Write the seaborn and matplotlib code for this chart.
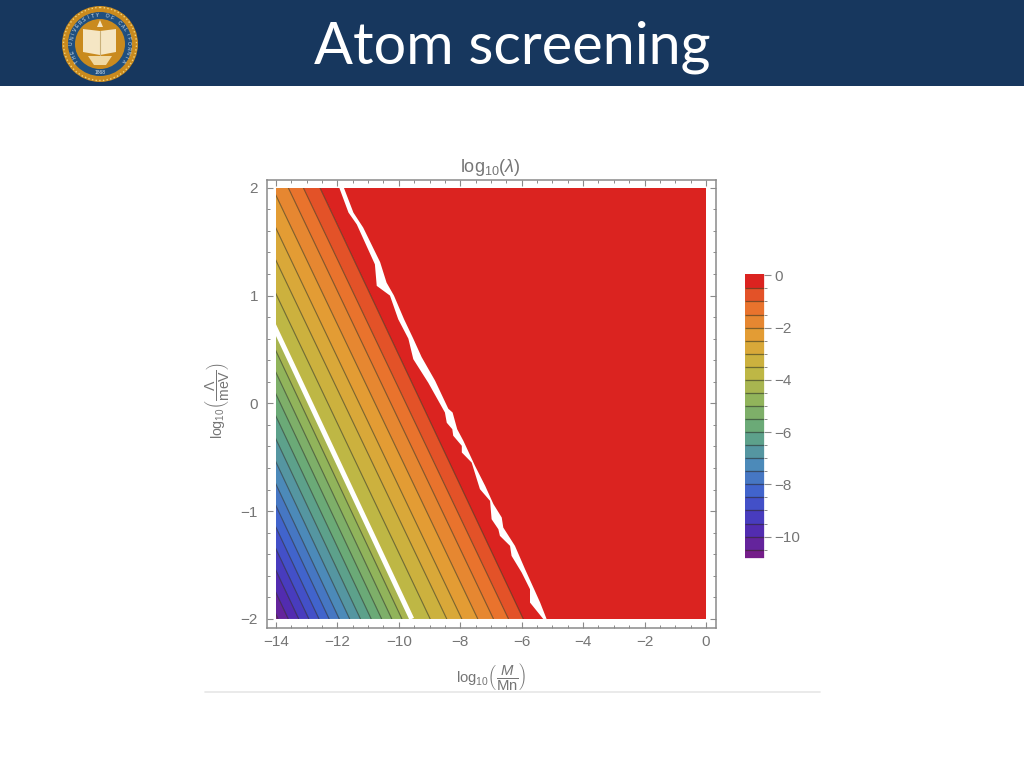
import numpy as np
import pandas as pd
import matplotlib
matplotlib.use("Agg")
import matplotlib.pyplot as plt
from matplotlib.patches import Rectangle, Circle, Polygon
import seaborn as sns

# ---- data ----
title = "Atom screening"
levels = [0, -0.5, -1, -1.5, -2, -2.5, -3, -3.5, -4, -4.5, -5, -5.5, -6, -6.5,
          -7, -7.5, -8, -8.5, -9, -9.5, -10, -10.5]
x_at_bottom = [-5.45, -5.95, -6.43, -6.92, -7.43, -7.95, -8.44, -8.98, -9.58, -9.9, -10.23,
               -10.56, -10.9, -11.25, -11.6, -11.94, -12.27, -12.6, -12.93, -13.26, -13.6, -13.93]
x_at_top = [-12.07, -12.57, -13.11, -13.6, -14.12, -14.63, -15.13, -15.64, -16.18, -16.5, -16.83,
            -17.16, -17.5, -17.85, -18.2, -18.54, -18.87, -19.2, -19.53, -19.86, -20.2, -20.53]
lowest_level = -10.8
lowest_x_bottom = -14.3
lowest_x_top = -20.9

gap_low_x = [-16.18, -9.58]      # white gap near level -4
gap_low_y = [2, -2]

gap_left_x = [-11.94, -11.64, -11.37, -10.78, -10.72, -10.29, -10.02, -9.69, -9.53, -9.04,
              -8.50, -8.44, -8.26, -8.23, -7.95, -7.95, -7.63, -7.36, -7.03, -6.98, -6.76,
              -6.71, -6.38, -6.33, -6.0, -5.73, -5.73, -5.30]
gap_left_y = [2.0, 1.77, 1.66, 1.29, 1.09, 1.00, 0.78, 0.60, 0.41, 0.19,
              -0.085, -0.18, -0.24, -0.30, -0.394, -0.456, -0.549, -0.796, -0.905, -1.075, -1.168,
              -1.229, -1.322, -1.415, -1.57, -1.724, -1.848, -2.0]
gap_right_x = [-11.79, -11.48, -11.16, -10.61, -10.40, -10.16, -9.83, -9.53, -9.26, -8.82,
               -8.39, -8.25, -8.10, -7.90, -7.52, -7.19, -6.92, -6.65, -6.60, -6.22, -5.89,
               -5.57, -5.40, -5.19]
gap_right_y = [2.0, 1.77, 1.63, 1.31, 1.12, 1.00, 0.78, 0.60, 0.43, 0.21,
               -0.05, -0.085, -0.24, -0.347, -0.58, -0.765, -0.935, -1.059, -1.152, -1.322, -1.539,
               -1.74, -1.848, -2.0]

x_ticks = [-14, -12, -10, -8, -6, -4, -2, 0]
y_ticks = [-2, -1, 0, 1, 2]
bar_ticks = [0, -2, -4, -6, -8, -10]
palette_stops = ["#7A1B84", "#4B2FB8", "#3F5FCF", "#4C8CB8", "#62A77E", "#8FB45C",
                 "#C4B742", "#E2A235", "#E9722D", "#DB2320"]
seal_text = "THE UNIVERSITY OF CALIFORNIA"

# ---- theme ----
sns.set_theme(style="white")
plt.rcParams["font.family"] = ["Liberation Sans", "DejaVu Sans"]
plt.rcParams["mathtext.fontset"] = "custom"
plt.rcParams["mathtext.rm"] = "Liberation Sans"
plt.rcParams["mathtext.it"] = "Liberation Sans:italic"
plt.rcParams["mathtext.bf"] = "Liberation Sans:bold"
GREY = "#757575"
FRAME = "#8a8a8a"
LINE = "#2b2b1f"
W, H = 1024, 768


def box(l, t, r, b):
    return [l / W, 1 - b / H, (r - l) / W, (b - t) / H]


fig = plt.figure(figsize=(10.24, 7.68), dpi=100, facecolor="white")
cmap = sns.blend_palette(palette_stops, as_cmap=True)
norm = plt.Normalize(lowest_level, 0)
top_red = palette_stops[-1]


def band_colour(low, high):
    return top_red if high == 0 else cmap(norm(0.5 * (low + high)))


# ---- main plot ----
ax = fig.add_axes(box(267, 180, 716, 628))
ax.set_xlim(-14.293, 0.326)
ax.set_ylim(-2.084, 2.072)
clip = Rectangle((-14, -2), 14, 4, transform=ax.transData)

all_lv = levels + [lowest_level]
all_bot = x_at_bottom + [lowest_x_bottom]
all_top = x_at_top + [lowest_x_top]
red = ax.fill([all_bot[1], 1, 1, all_top[1]], [-2, -2, 2, 2], color=top_red, lw=0)[0]
red.set_clip_path(clip)
for i in range(1, len(levels)):
    c = band_colour(all_lv[i + 1], all_lv[i])
    p = ax.fill([all_bot[i], all_bot[i + 1], all_top[i + 1], all_top[i]],
                [-2, -2, 2, 2], color=c, lw=0.3, ec=c)[0]
    p.set_clip_path(clip)

lines = pd.DataFrame(
    [{"level": lv, "x": xb, "y": -2} for lv, xb in zip(levels[1:], x_at_bottom[1:]) if lv != -4]
    + [{"level": lv, "x": xt, "y": 2} for lv, xt in zip(levels[1:], x_at_top[1:]) if lv != -4]
)
sns.lineplot(data=lines, x="x", y="y", units="level", estimator=None, sort=False,
             color=LINE, alpha=0.55, lw=0.8, ax=ax, legend=False)
for ln in ax.lines:
    ln.set_clip_path(clip)

gap_low, = ax.plot(gap_low_x, gap_low_y, color="white", lw=3.6, solid_capstyle="butt")
gap_low.set_clip_path(clip)
gap = ax.fill(gap_left_x + gap_right_x[::-1], gap_left_y + gap_right_y[::-1],
              color="white", lw=0)[0]
gap.set_clip_path(clip)

ax.set_xticks(x_ticks)
ax.set_xticklabels(["\u2212" + str(abs(v)) if v else "0" for v in x_ticks])
ax.set_yticks(y_ticks)
ax.set_yticklabels(["\u2212" + str(abs(v)) if v < 0 else str(v) for v in y_ticks])
ax.set_xticks(np.arange(-14, 0.01, 0.5), minor=True)
ax.set_yticks(np.arange(-2, 2.01, 0.2), minor=True)
ax.tick_params(which="major", direction="in", length=4.5, width=0.8, color=FRAME,
               top=True, right=True, bottom=True, left=True,
               labelsize=11, labelcolor=GREY, pad=5)
ax.tick_params(axis="y", which="major", pad=6.5)
ax.tick_params(which="minor", direction="in", length=2.5, width=0.7, color=FRAME,
               top=True, right=True, bottom=True, left=True)
for s in ax.spines.values():
    s.set_visible(True)
    s.set_color(FRAME)
    s.set_linewidth(1.1)
ax.set_xlabel("")
ax.set_ylabel("")

# ---- colour bar ----
cax = fig.add_axes(box(745, 274, 764, 557.5))
edges = np.array([0.05] + levels[1:] + [lowest_level])
mids = [top_red] + [band_colour(a, b) for a, b in zip(edges[2:], edges[1:-1])]
for hi, lo, c in zip(edges[:-1], edges[1:], mids):
    cax.fill_between([0, 1], [lo, lo], [hi, hi], color=c, lw=0.2)
cax.hlines(levels[1:], 0, 1, color=LINE, alpha=0.55, lw=0.9)
cax.set_xlim(0, 1)
cax.set_ylim(lowest_level, 0.05)
cax.set_xticks([])
cax.yaxis.tick_right()
cax.set_yticks(bar_ticks)
cax.set_yticklabels(["\u2212" + str(abs(v)) if v else "0" for v in bar_ticks])
cax.set_yticks(levels, minor=True)
cax.tick_params(which="major", direction="out", length=5, width=0.8, color=FRAME,
                labelsize=11, labelcolor=GREY, pad=2.5)
cax.tick_params(which="minor", direction="out", length=2.5, width=0.7, color=FRAME)
for s in cax.spines.values():
    s.set_visible(False)

# ---- slide furniture in pixel coordinates ----
over = fig.add_axes([0, 0, 1, 1], zorder=5)
over.set_xlim(0, W)
over.set_ylim(H, 0)
over.axis("off")
over.patch.set_alpha(0)
over.text(491, 677, r"$\mathrm{log}_{10}\left(\dfrac{M}{\mathrm{Mn}}\right)$", ha="center", va="center",
          fontsize=10.7, color=GREY, zorder=2)
over.add_patch(Rectangle((200, 691), 640, 40, color="white", lw=0, zorder=3))
over.plot([205, 820], [691.5, 691.5], color="#e6e6e6", lw=1.2, zorder=4)
over.text(490, 167, r"$\mathrm{log}_{10}(\lambda)$", ha="center", va="center", fontsize=13, color=GREY)
over.text(218, 401, r"$\mathrm{log}_{10}\left(\dfrac{\Lambda}{\mathrm{meV}}\right)$", ha="center", va="center",
          rotation=90, fontsize=10.2, color=GREY)

over.add_patch(Rectangle((0, 0), W, 86, color="#17375E", lw=0))
over.text(512.5, 64, title, ha="center", va="baseline", fontsize=41.5, color="white", family="Lato")

# seal
cx, cy = 100, 44
over.add_patch(Circle((cx, cy), 38, color="#C98A1E", lw=0))
over.add_patch(Circle((cx, cy), 36.5, fill=False, ec="#F2D27A", lw=1, ls=":"))
over.add_patch(Circle((cx, cy), 32, color="#1F4F7F", lw=0))
over.add_patch(Circle((cx, cy), 25, color="#C98A1E", lw=0))
over.add_patch(Polygon([(83, 29), (100, 31), (116, 29), (116, 52), (100, 55), (83, 52)],
                       closed=True, color="#F5E6C4", lw=0))
over.add_patch(Polygon([(88, 56), (112, 56), (106, 65), (94, 65)], closed=True, color="#F0D9A4", lw=0))
over.plot([100, 100], [31, 55], color="#C9B07A", lw=0.8)
over.add_patch(Polygon([(100, 20), (103, 27), (97, 27)], closed=True, color="#F5E6C4", lw=0))
angles = np.linspace(-125, 125, len(seal_text))
for ch, a in zip(seal_text, angles):
    r = np.deg2rad(a)
    over.text(cx + 28.5 * np.sin(r), cy - 28.5 * np.cos(r), ch, fontsize=3.6, color="#DCE6EE",
              ha="center", va="center", rotation=-a)
over.text(cx, cy + 28.5, "1868", fontsize=3.6, color="#DCE6EE", ha="center", va="center")

fig.savefig("out.png", dpi=100)
